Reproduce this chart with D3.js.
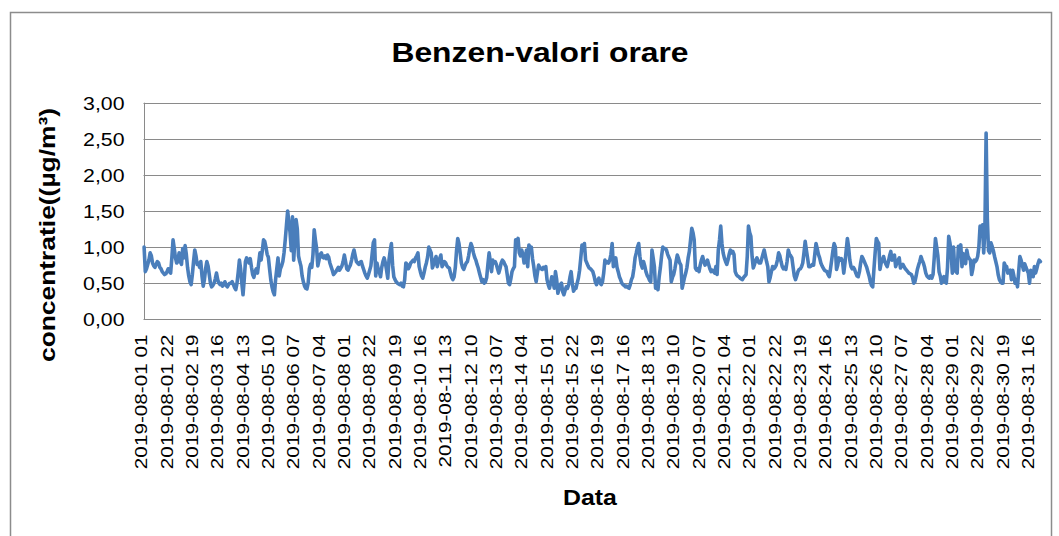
<!DOCTYPE html>
<html lang="ro">
  <head>
    <meta charset="UTF-8">
    <title>Benzen-valori orare</title>
    <style>
    * {
      box-sizing: border-box;
      margin: 0;
      padding: 0;
    }

    body {
      background: #fff;
    }

    svg {
      display: block;
      font-family: "Liberation Sans", Arial, sans-serif;
    }

    .frame {
      fill: #fff;
      stroke: #8c8c8c;
      stroke-width: 1.5px;
    }

    .grid line {
      stroke: #8a8a8a;
      stroke-width: 1px;
    }

    .axis path {
      stroke: #8a8a8a;
      stroke-width: 1px;
    }

    .axis text {
      fill: #000;
    }

    .series {
      fill: none;
      stroke: #4a7ebb;
      stroke-width: 3.6px;
      stroke-linejoin: round;
      stroke-linecap: round;
    }

    .title {
      font-weight: bold;
      font-size: 28px;
    }

    .axis-title {
      font-weight: bold;
      font-size: 22px;
    }
    </style>
  </head>
  <body>
    <svg id="chart" width="1059" height="536"></svg>
    <script src="https://d3js.org/d3.v7.min.js"></script>
    <script>
      const yTicks = [0, 0.5, 1, 1.5, 2, 2.5, 3];

      const tickLabels = [
        "2019-08-01 01", "2019-08-01 22", "2019-08-02 19", "2019-08-03 16",
        "2019-08-04 13", "2019-08-05 10", "2019-08-06 07", "2019-08-07 04",
        "2019-08-08 01", "2019-08-08 22", "2019-08-09 19", "2019-08-10 16",
        "2019-08-11 13", "2019-08-12 10", "2019-08-13 07", "2019-08-14 04",
        "2019-08-15 01", "2019-08-15 22", "2019-08-16 19", "2019-08-17 16",
        "2019-08-18 13", "2019-08-19 10", "2019-08-20 07", "2019-08-21 04",
        "2019-08-22 01", "2019-08-22 22", "2019-08-23 19", "2019-08-24 16",
        "2019-08-25 13", "2019-08-26 10", "2019-08-27 07", "2019-08-28 04",
        "2019-08-29 01", "2019-08-29 22", "2019-08-30 19", "2019-08-31 16"
      ];

      // benzen, µg/m3, one row per day (hours 01..24)
      const valori = [
        1.00,0.66,0.70,0.76,0.82,0.92,0.88,0.78,0.74,0.72,0.76,0.80,0.78,0.72,0.70,0.66,0.64,0.62,0.63,0.66,0.70,0.66,0.64,0.85,
        1.10,0.98,0.85,0.78,0.80,0.92,0.80,0.76,0.98,0.85,1.02,0.90,0.72,0.60,0.52,0.48,0.62,0.80,0.96,0.88,0.76,0.78,0.72,0.80,
        0.60,0.46,0.55,0.70,0.80,0.74,0.62,0.50,0.45,0.47,0.50,0.56,0.64,0.55,0.50,0.48,0.50,0.46,0.48,0.52,0.47,0.45,0.48,0.50,
        0.50,0.52,0.48,0.44,0.41,0.50,0.65,0.82,0.70,0.50,0.34,0.55,0.80,0.85,0.82,0.78,0.84,0.72,0.62,0.58,0.66,0.70,0.64,0.78,
        0.92,0.82,0.95,1.10,1.08,1.00,0.90,0.86,0.70,0.55,0.45,0.38,0.34,0.55,0.70,0.85,0.60,0.70,0.74,0.80,0.92,1.10,1.30,1.50,
        1.35,1.20,0.95,1.42,0.82,1.10,1.38,1.25,0.88,0.80,0.74,0.60,0.52,0.46,0.43,0.42,0.50,0.70,0.76,0.72,0.90,1.24,1.10,0.98,
        0.74,0.82,0.90,0.92,0.86,0.85,0.88,0.84,0.89,0.86,0.78,0.73,0.68,0.62,0.64,0.66,0.69,0.72,0.68,0.71,0.74,0.80,0.89,0.80,
        0.70,0.68,0.72,0.75,0.82,0.90,0.96,0.88,0.80,0.78,0.76,0.79,0.80,0.74,0.69,0.64,0.60,0.57,0.62,0.68,0.74,0.90,1.06,1.10,
        0.60,0.78,0.70,0.65,0.59,0.72,0.80,0.85,0.78,0.68,0.57,0.82,0.95,1.05,0.75,0.59,0.55,0.52,0.50,0.49,0.48,0.50,0.46,0.45,
        0.55,0.78,0.76,0.70,0.73,0.78,0.80,0.82,0.80,0.85,0.88,0.92,0.73,0.66,0.60,0.57,0.64,0.72,0.78,0.86,1.00,0.96,0.92,0.71,
        0.76,0.82,0.87,0.73,0.80,0.84,0.89,0.73,0.76,0.80,0.78,0.74,0.72,0.71,0.64,0.58,0.55,0.59,0.72,0.95,1.12,1.05,0.92,0.78,
        0.72,0.69,0.74,0.78,0.80,0.88,0.98,1.05,1.00,0.92,0.86,0.82,0.76,0.71,0.64,0.58,0.52,0.55,0.50,0.52,0.58,0.76,0.92,0.80,
        0.66,0.82,0.78,0.80,0.76,0.70,0.64,0.70,0.78,0.82,0.80,0.76,0.73,0.62,0.50,0.48,0.56,0.66,0.70,0.73,1.10,1.05,1.12,0.92,
        0.88,0.96,0.90,0.78,0.85,0.96,0.73,1.03,0.98,1.00,0.84,0.73,0.60,0.52,0.64,0.75,0.72,0.70,0.69,0.72,0.70,0.73,0.55,0.48,
        0.43,0.50,0.59,0.52,0.43,0.66,0.55,0.36,0.42,0.48,0.50,0.38,0.34,0.40,0.45,0.43,0.48,0.58,0.66,0.50,0.39,0.42,0.43,0.50,
        0.57,0.68,0.85,1.03,1.00,1.05,0.82,0.78,0.74,0.71,0.70,0.68,0.66,0.60,0.52,0.48,0.54,0.57,0.50,0.48,0.52,0.64,0.82,0.78,
        0.80,0.78,0.82,0.90,1.05,0.73,0.80,0.85,0.72,0.66,0.59,0.55,0.50,0.48,0.47,0.45,0.46,0.44,0.43,0.48,0.55,0.59,0.70,0.85,
        0.92,1.00,1.05,0.87,0.76,0.71,0.80,0.74,0.66,0.61,0.58,0.54,0.52,0.96,0.85,0.73,0.43,0.45,0.41,0.59,0.72,0.88,1.00,0.98,
        0.98,0.96,0.90,0.86,0.82,0.52,0.58,0.62,0.70,0.80,0.89,0.84,0.78,0.75,0.43,0.50,0.58,0.64,0.72,0.85,0.94,1.10,1.26,1.20,
        1.10,0.71,0.68,0.70,0.66,0.75,0.82,0.87,0.80,0.75,0.78,0.82,0.76,0.70,0.66,0.68,0.66,0.64,0.73,0.62,0.96,1.10,1.29,1.05,
        0.92,0.85,0.80,0.76,0.82,0.90,0.96,0.92,0.94,0.90,0.66,0.62,0.60,0.59,0.57,0.56,0.55,0.58,0.60,0.62,0.87,1.29,1.20,1.15,
        0.87,0.71,0.76,0.82,0.85,0.80,0.78,0.78,0.84,0.90,0.96,0.88,0.80,0.73,0.52,0.58,0.66,0.73,0.70,0.72,0.75,0.82,0.92,0.88,
        0.80,0.73,0.70,0.72,0.69,0.80,0.96,0.90,0.88,0.85,0.72,0.60,0.55,0.60,0.66,0.69,0.70,0.73,0.78,0.92,1.08,0.96,0.85,0.73,
        0.73,0.74,0.76,0.75,0.90,1.05,0.98,0.90,0.85,0.78,0.74,0.71,0.68,0.67,0.66,0.62,0.59,0.70,0.82,0.95,1.05,1.00,0.69,0.75,
        0.85,0.82,0.84,0.80,0.64,0.78,0.95,1.12,1.00,0.82,0.73,0.70,0.72,0.69,0.64,0.60,0.59,0.66,0.78,0.87,0.84,0.80,0.76,0.72,
        0.66,0.60,0.52,0.47,0.45,0.69,0.92,1.12,1.08,1.05,0.69,0.78,0.82,0.87,0.80,0.76,0.73,0.80,0.88,0.94,0.82,0.86,0.89,0.73,
        0.78,0.82,0.85,0.71,0.74,0.76,0.73,0.70,0.68,0.66,0.64,0.63,0.62,0.58,0.50,0.52,0.60,0.69,0.75,0.80,0.87,0.82,0.78,0.72,
        0.64,0.60,0.58,0.57,0.60,0.57,0.62,0.85,1.12,1.00,0.88,0.66,0.60,0.50,0.55,0.59,0.52,0.50,0.72,1.15,1.06,0.92,0.64,1.00,
        0.68,0.66,0.64,1.01,0.96,1.03,0.73,0.91,0.85,0.77,0.96,0.87,0.84,0.82,0.62,0.70,0.82,0.80,0.82,0.87,1.00,1.29,1.20,1.31,
        0.92,1.24,2.58,1.40,0.95,0.92,1.06,1.01,0.95,0.87,0.80,0.73,0.62,0.55,0.52,0.50,0.50,0.78,0.74,0.73,0.64,0.66,0.68,0.55,
        0.68,0.60,0.50,0.55,0.45,0.66,0.87,0.82,0.75,0.68,0.77,0.72,0.68,0.64,0.50,0.68,0.62,0.59,0.73,0.64,0.70,0.77,0.82,0.80
      ];

      // hourly categories 2019-08-01 01 ... 2019-08-31 24
      const categorii = [];
      for (let d = 1; d <= 31; d++) {
        for (let h = 1; h <= 24; h++) {
          categorii.push(`2019-08-${String(d).padStart(2, "0")} ${String(h).padStart(2, "0")}`);
        }
      }

      const plot = { left: 143.5, right: 1041, top: 102.7, bottom: 319.3 };

      const svg = d3.select("#chart");

      // chart area border (bottom edge falls outside the picture)
      svg.append("rect")
        .attr("class", "frame")
        .attr("x", 10.5)
        .attr("y", 12.5)
        .attr("width", 1041)
        .attr("height", 530);

      const x = d3.scaleBand()
        .domain(categorii)
        .range([plot.left, plot.right]);

      const y = d3.scaleLinear()
        .domain([0, 3])
        .range([plot.bottom, plot.top]);

      // horizontal gridlines
      svg.append("g")
        .attr("class", "grid")
        .selectAll("line")
        .data(yTicks.slice(1))
        .enter().append("line")
        .attr("x1", plot.left)
        .attr("x2", plot.right)
        .attr("y1", d => Math.round(y(d)) + 0.5)
        .attr("y2", d => Math.round(y(d)) + 0.5);

      // y axis
      const yAxis = svg.append("g")
        .attr("class", "axis")
        .attr("transform", `translate(${Math.round(plot.left) + 0.5},0)`)
        .call(d3.axisLeft(y)
          .tickValues(yTicks)
          .tickSize(0)
          .tickPadding(0)
          .tickFormat(d => d3.format(".2f")(d).replace(".", ",")));
      yAxis.select(".domain").attr("d", `M0,${plot.top}V${plot.bottom}`);
      yAxis.selectAll("text")
        .attr("x", 0)
        .attr("dy", "0.36em")
        .style("font-size", "18.5px")
        .attr("transform", "translate(-20,0) scale(1.15,1)");

      // x axis
      const xAxis = svg.append("g")
        .attr("class", "axis")
        .attr("transform", `translate(0,${Math.round(plot.bottom) + 0.5})`)
        .call(d3.axisBottom(x)
          .tickValues(tickLabels)
          .tickSize(0)
          .tickPadding(0));
      xAxis.select(".domain").attr("d", `M${plot.left},0H${plot.right}`);
      xAxis.selectAll("text")
        .attr("x", 0)
        .attr("y", 0)
        .attr("dy", "0.36em")
        .style("text-anchor", "end")
        .style("font-size", "16.3px")
        .attr("transform", "translate(-2.5,15) rotate(-90) scale(1.27,1)");

      // series line
      const line = d3.line()
        .x((d, i) => x(categorii[i]) + x.bandwidth() / 2)
        .y(d => y(d));

      svg.append("path")
        .datum(valori)
        .attr("class", "series")
        .attr("d", line);

      // titles
      svg.append("text")
        .attr("class", "title")
        .attr("text-anchor", "middle")
        .attr("transform", "translate(540,61.5) scale(1.137,1)")
        .text("Benzen-valori orare");

      svg.append("text")
        .attr("class", "axis-title")
        .attr("text-anchor", "middle")
        .attr("transform", "translate(590,505) scale(1.13,1)")
        .text("Data");

      svg.append("text")
        .attr("class", "axis-title")
        .attr("text-anchor", "middle")
        .attr("transform", "translate(55,235) rotate(-90) scale(1.2,1)")
        .text("concentratie((µg/m³)");
    </script>
  </body>
</html>
